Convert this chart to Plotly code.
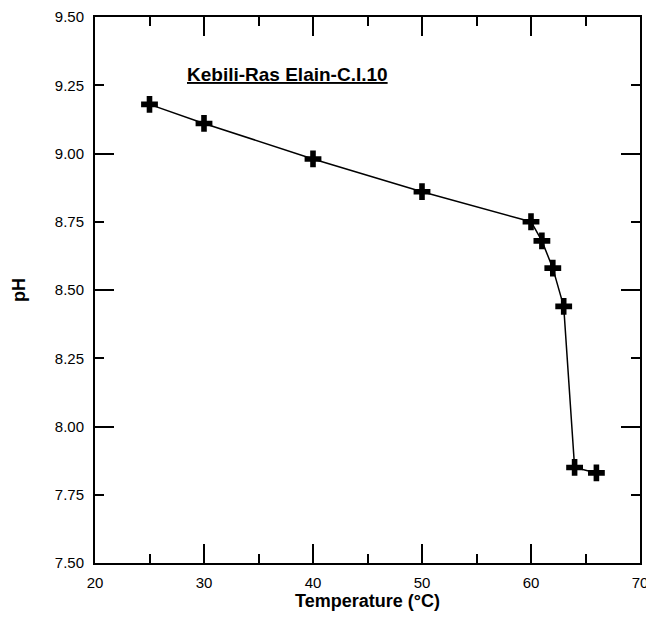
import plotly.graph_objects as go

temperature = [25, 30, 40, 50, 60, 61, 62, 63, 64, 66]
ph = [9.18, 9.11, 8.98, 8.86, 8.75, 8.68, 8.58, 8.44, 7.85, 7.83]

x_ticks = [20, 30, 40, 50, 60, 70]
y_label_ticks = [7.50, 7.75, 8.00, 8.25, 8.50, 8.75, 9.00, 9.25, 9.50]
y_long_ticks = [7.50, 8.00, 8.50, 9.00, 9.50]

font_family = "Arial, Liberation Sans, sans-serif"

fig = go.Figure()
fig.add_trace(go.Scatter(
    x=temperature, y=ph, mode="lines+markers",
    line=dict(color="black", width=1.5),
    marker=dict(symbol="cross", size=14, color="black", line=dict(width=0)),
    showlegend=False, cliponaxis=False,
))
# dummy trace on overlay axis to keep it active
fig.add_trace(go.Scatter(x=[None], y=[None], yaxis="y2", showlegend=False, hoverinfo="skip"))

fig.update_layout(
    template="none",
    width=646, height=617,
    margin=dict(l=95, r=6, t=17, b=54, autoexpand=False),
    paper_bgcolor="white", plot_bgcolor="white",
    font=dict(family=font_family, color="black", size=15),
    xaxis=dict(
        range=[20, 70], tickvals=x_ticks, ticks="inside", ticklen=19, tickwidth=2,
        tickcolor="black", showline=True, linecolor="black", linewidth=2,
        mirror="ticks", showgrid=False, zeroline=False, automargin=False,
        ticklabelstandoff=5, ticklabeloverflow="allow",
        minor=dict(dtick=5, tick0=20, ticks="inside", ticklen=9, tickwidth=2,
                   tickcolor="black", showgrid=False),
        title=dict(text="<b>Temperature (°C)</b>", font=dict(size=18), standoff=3),
        tickfont=dict(size=15),
    ),
    yaxis=dict(
        range=[7.5, 9.5], tickvals=y_label_ticks, tickformat=".2f", ticks="inside",
        ticklen=9, tickwidth=2, tickcolor="black", showline=True, linecolor="black",
        linewidth=2, mirror="ticks", showgrid=False, zeroline=False, automargin=False,
        ticklabelstandoff=6, ticklabeloverflow="allow",
        title=dict(text="<b>pH</b>", font=dict(size=18), standoff=24),
        tickfont=dict(size=15),
    ),
    yaxis2=dict(
        range=[7.5, 9.5], overlaying="y", side="left", tickvals=y_long_ticks,
        ticks="inside", ticklen=19, tickwidth=2, tickcolor="black", showticklabels=False,
        showline=False, mirror="ticks", showgrid=False, zeroline=False, automargin=False,
    ),
    annotations=[dict(
        x=37.7, y=9.29, xref="x", yref="y", showarrow=False,
        text="<b><u>Kebili-Ras Elain-C.I.10</u></b>", font=dict(size=19, color="black"),
    )],
)

fig.write_html(
    "out.html",
    config={"displayModeBar": False, "staticPlot": True},
    post_script="document.body.style.margin='0';document.documentElement.style.overflow='hidden';",
)
